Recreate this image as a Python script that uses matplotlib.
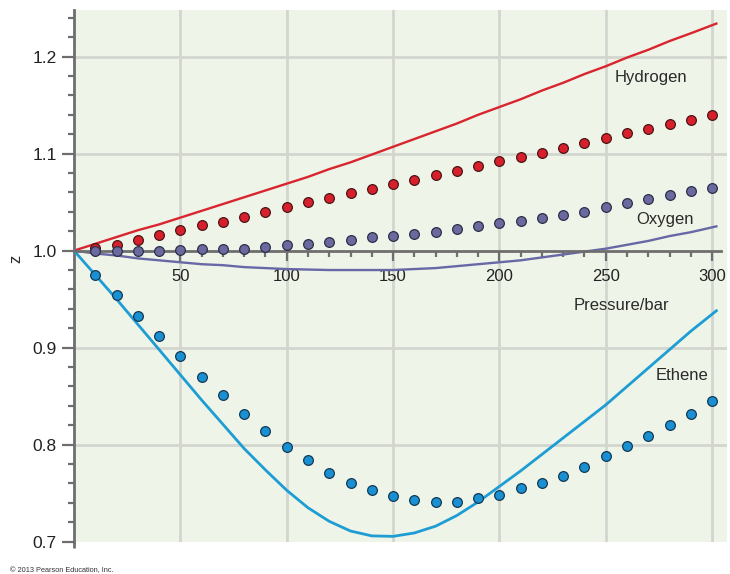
import matplotlib
matplotlib.use("Agg")
import matplotlib.pyplot as plt
from matplotlib.ticker import FixedLocator, FormatStrFormatter

plt.rcParams['font.family'] = ['Liberation Sans', 'DejaVu Sans']

# ---------------- data ----------------
dot_pressure = [10, 20, 30, 40, 50, 60, 70, 80, 90, 100,
                110, 120, 130, 140, 150, 160, 170, 180, 190, 200,
                210, 220, 230, 240, 250, 260, 270, 280, 290, 300]

hydrogen_dots = [1.003, 1.006, 1.011, 1.016, 1.021, 1.026, 1.030, 1.035, 1.040, 1.045,
                 1.050, 1.054, 1.059, 1.064, 1.069, 1.073, 1.078, 1.082, 1.087, 1.092,
                 1.096, 1.101, 1.106, 1.111, 1.116, 1.121, 1.125, 1.130, 1.135, 1.140]

oxygen_dots = [1.000, 1.000, 1.000, 1.000, 1.001, 1.002, 1.002, 1.002, 1.004, 1.006,
               1.0065, 1.009, 1.011, 1.014, 1.015, 1.017, 1.019, 1.022, 1.025, 1.028,
               1.031, 1.034, 1.037, 1.040, 1.045, 1.049, 1.053, 1.057, 1.061, 1.065]

ethene_dots = [0.975, 0.954, 0.933, 0.912, 0.891, 0.870, 0.851, 0.832, 0.814, 0.798,
               0.784, 0.771, 0.760, 0.753, 0.747, 0.743, 0.741, 0.741, 0.745, 0.748,
               0.755, 0.761, 0.768, 0.777, 0.788, 0.799, 0.809, 0.820, 0.832, 0.845]

line_pressure = [0, 10, 20, 30, 40, 50, 60, 70, 80, 90, 100,
                 110, 120, 130, 140, 150, 160, 170, 180, 190, 200,
                 210, 220, 230, 240, 250, 260, 270, 280, 290, 302]

hydrogen_line = [1.000, 1.007, 1.014, 1.021, 1.027, 1.034, 1.041, 1.048, 1.055, 1.062, 1.069,
                 1.076, 1.084, 1.091, 1.099, 1.107, 1.115, 1.123, 1.131, 1.140, 1.148,
                 1.156, 1.165, 1.173, 1.182, 1.190, 1.199, 1.207, 1.216, 1.224, 1.234]

oxygen_line = [1.000, 0.997, 0.995, 0.992, 0.990, 0.988, 0.986, 0.985, 0.983, 0.982, 0.981,
               0.9805, 0.980, 0.980, 0.980, 0.980, 0.981, 0.982, 0.984, 0.986, 0.988,
               0.990, 0.993, 0.996, 0.999, 1.002, 1.006, 1.010, 1.015, 1.019, 1.025]

ethene_line = [1.000, 0.975, 0.950, 0.924, 0.898, 0.872, 0.846, 0.821, 0.796, 0.774, 0.753,
               0.735, 0.721, 0.711, 0.706, 0.7055, 0.709, 0.716, 0.727, 0.741, 0.757,
               0.773, 0.790, 0.807, 0.824, 0.841, 0.860, 0.879, 0.898, 0.917, 0.938]

x_major = [50, 100, 150, 200, 250, 300]
x_labels = ['50', '100', '150', '200', '250', '300']
y_major = [0.7, 0.8, 0.9, 1.0, 1.1, 1.2]

# ---------------- figure ----------------
W, H = 730, 574
fig = plt.figure(figsize=(W / 100, H / 100), dpi=100)
ax = fig.add_axes([74 / W, 32.3 / H, (727 - 74) / W, (541.7 - 10) / H])
ax.set_xlim(0, 307)
ax.set_ylim(0.7, 1.248)
ax.set_facecolor('#eef4e7')

axis_col = '#6e6e6e'
grid_col = '#d2d6cf'

# grid
for gx in x_major:
    ax.axvline(gx, color=grid_col, lw=2, zorder=0.5)
for gy in [0.8, 0.9, 1.1, 1.2]:
    ax.axhline(gy, color=grid_col, lw=2, zorder=0.5)

# lines
ax.plot(line_pressure, hydrogen_line, color='#d9252f', lw=1.7, zorder=3, solid_joinstyle='round')
ax.plot(line_pressure, oxygen_line, color='#6868a6', lw=1.7, zorder=3, solid_joinstyle='round')
ax.plot(line_pressure, ethene_line, color='#1e9dd5', lw=2.0, zorder=3, solid_joinstyle='round')

# dots
ms = 7.0
ax.plot(dot_pressure, hydrogen_dots, 'o', ms=ms, mfc='#d8202c', mec='#4a1515', mew=0.9, zorder=6)
ax.plot(dot_pressure, oxygen_dots, 'o', ms=ms, mfc='#6a6a9e', mec='#2e2e4a', mew=0.9, zorder=6)
ax.plot(dot_pressure, ethene_dots, 'o', ms=ms, mfc='#1a90d2', mec='#123a55', mew=0.9, zorder=6)

# spines
for s in ['top', 'right']:
    ax.spines[s].set_visible(False)
ax.spines['bottom'].set_position(('data', 1.0))
ax.spines['bottom'].set_bounds(0, 304)
ax.spines['bottom'].set_color(axis_col)
ax.spines['bottom'].set_linewidth(2)
ax.spines['bottom'].set_zorder(4)
ax.spines['left'].set_color(axis_col)
ax.spines['left'].set_linewidth(2)
ax.plot([0, 0], [-0.012, 0], transform=ax.transAxes, clip_on=False,
        color=axis_col, lw=2, solid_capstyle='butt')

# x ticks
ax.xaxis.set_major_locator(FixedLocator(x_major))
ax.set_xticklabels(x_labels)
ax.xaxis.set_minor_locator(FixedLocator([v for v in range(10, 301, 10) if v % 50 != 0]))
ax.tick_params(axis='x', which='major', direction='out', length=7.5, width=1.6,
               color=axis_col, labelsize=12, labelcolor='#222222', pad=6)
ax.tick_params(axis='x', which='minor', direction='out', length=4.5, width=1.6, color=axis_col)

# y ticks
ax.yaxis.set_major_locator(FixedLocator(y_major))
ax.yaxis.set_major_formatter(FormatStrFormatter('%.1f'))
ax.yaxis.set_minor_locator(FixedLocator([round(0.7 + 0.02 * i, 2) for i in range(28) if i % 5 != 0]))
ax.tick_params(axis='y', which='major', direction='out', length=9, width=1.6,
               color=axis_col, labelsize=12.5, labelcolor='#222222', pad=3.5)
ax.tick_params(axis='y', which='minor', direction='out', length=4.5, width=1.6, color=axis_col)

# labels
tc = '#2a2a2a'
def px_to_data(px, py):
    return ((px - 74) / 2.127, 1.0 + (251 - py) / 972)

for txt, (px, py) in [('Hydrogen', (615, 77.7)), ('Oxygen', (636.5, 220)),
                      ('Pressure/bar', (574, 306)), ('Ethene', (655.5, 375.7))]:
    dx, dy = px_to_data(px, py)
    ax.text(dx, dy, txt, fontsize=12, color=tc, ha='left', va='center', zorder=7)

fig.text(16 / W, 1 - 259 / H, 'z', rotation=90, fontsize=12, color=tc, ha='center', va='center')
fig.text(10 / W, 1 - 571 / H, '© 2013 Pearson Education, Inc.', fontsize=5.3, color='#333333',
         ha='left', va='center')

fig.savefig('out.png', dpi=100)
